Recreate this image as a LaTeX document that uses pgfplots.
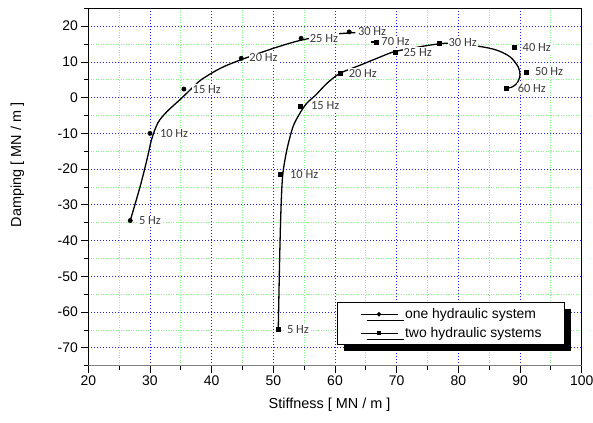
\documentclass[border=0pt]{standalone}
\usepackage{pgfplots}
\pgfplotsset{compat=1.18}
\usepackage{fontspec}
\setmainfont{Liberation Sans}
\newfontfamily\hzfont{Carlito}
\usetikzlibrary{shadows}

\definecolor{majgrid}{RGB}{30,30,255}
\definecolor{mingrid}{RGB}{130,245,130}
\definecolor{hzgray}{RGB}{60,60,60}

% fitted curves (stiffness, damping)
\pgfplotstableread{
x     y
26.8  -34.4
28.4  -24.9
29.5  -17.4
30.3  -11.5
31.3  -7.0
32.7  -4.0
34.9  -0.5
36.6   2.3
38.3   5.0
41.4   8.2
44.6  10.5
50.0  13.8
54.3  16.0
58.0  17.2
60.8  17.9
63.3  18.2
}\curveone

\pgfplotstableread{
x     y
50.8  -64.9
51.0  -47.2
51.2  -33.3
51.5  -22.1
52.2  -14.6
53.2  -8.1
54.3  -4.4
55.4  -1.6
56.8   0.6
58.7   4.0
60.8   6.8
64.1   9.1
66.8  11.0
69.5  12.8
73.0  14.0
76.2  14.9
78.5  15.2
83.2  14.4
86.2  13.3
88.4  11.4
89.7   8.6
90.0   6.3
89.5   4.0
88.6   2.9
87.7   2.6
}\curvetwo

% measured points
\pgfplotstableread{
x     y
26.8  -34.4
30.0  -10.0
35.5   2.4
44.8  11.0
54.5  16.6
62.3  18.4
}\pointsone

\pgfplotstableread{
x     y
50.8  -64.9
51.1  -21.5
54.4  -2.3
60.8   6.8
69.7  12.8
76.9  15.3
89.0  14.0
91.0   7.2
87.7   2.7
66.6  15.6
}\pointstwo

\tikzset{hz/.style={anchor=west, fill=white, inner sep=0.8bp, xshift=-0.8bp,
  font=\hzfont\fontsize{12.5}{13}\selectfont, text=hzgray}}

\begin{document}
\begin{tikzpicture}
\begin{axis}[
  scale only axis,
  width=493.4bp, height=357.4bp,
  xmin=20, xmax=100, ymin=-75, ymax=25,
  xtick={20,30,...,100}, ytick={-70,-60,...,20},
  minor xtick={25,35,...,95}, minor ytick={-75,-65,...,25},
  grid=both,
  major grid style={majgrid, line width=0.8bp, dash pattern=on 1bp off 2bp},
  minor grid style={mingrid, line width=0.8bp, dash pattern=on 1bp off 1.5bp},
  tick align=outside,
  major tick length=7bp, minor tick length=4bp,
  xtick pos=bottom, ytick pos=left,
  axis line style={black, line width=0.8bp},
  tick style={black, line width=0.8bp},
  /pgf/number format/assume math mode=true,
  tick label style={font=\fontsize{14}{16}\selectfont},
  xlabel={Stiffness [ MN / m ]},
  ylabel={Damping [ MN / m ]},
  x label style={at={(axis description cs:0.489,0)}, yshift=-39.5bp, anchor=center,
    font=\fontsize{14.5}{17}\selectfont},
  y label style={at={(axis description cs:0,0.5616)}, yshift=71bp, anchor=center,
    font=\fontsize{14.5}{17}\selectfont},
  legend cell align=left,
  legend style={at={(rel axis cs:0.966,0.058)}, anchor=south east,
    draw=black, line width=0.8bp, fill=white,
    font=\fontsize{14}{16}\selectfont,
    inner xsep=16bp, inner ysep=4bp, row sep=4.5bp,
    nodes={inner xsep=7bp, inner ysep=1.5bp},
    drop shadow={shadow xshift=6bp, shadow yshift=-6bp, fill=black, opacity=1}},
  legend image code/.code={
    \path (-6.6bp,0bp);
    \draw[mark repeat=2, mark phase=2, line width=1.2bp, #1]
      plot coordinates {(0bp,0bp) (18.5bp,0bp) (37bp,0bp)};
  },
]
\addlegendimage{black, mark=*, mark size=1.5bp}
\addlegendentry{one hydraulic system}
\addlegendimage{black, mark=square*, mark size=1.6bp}
\addlegendentry{two hydraulic systems}

\addplot[black, line width=1.3bp, smooth, tension=0.5, forget plot] table {\curveone};
\addplot[black, line width=1.3bp, smooth, tension=0.5, forget plot] table {\curvetwo};
\addplot[black, line width=1.3bp, forget plot] coordinates {(65.9,15.6) (67.2,15.6)};
\addplot[only marks, mark=*, mark size=2.2bp, black, forget plot] table {\pointsone};
\addplot[only marks, mark=square*, mark size=2bp, black, forget plot] table {\pointstwo};

% frequency labels, one hydraulic system
\node[hz] at (axis cs:28.2,-34.4) {5 Hz};
\node[hz] at (axis cs:31.6,-9.9) {10 Hz};
\node[hz] at (axis cs:36.9,2.4) {15 Hz};
\node[hz] at (axis cs:46.1,11.1) {20 Hz};
\node[hz] at (axis cs:55.9,16.6) {25 Hz};
\node[hz] at (axis cs:63.7,18.4) {30 Hz};
% frequency labels, two hydraulic systems
\node[hz] at (axis cs:52.2,-64.9) {5 Hz};
\node[hz] at (axis cs:52.7,-21.5) {10 Hz};
\node[hz] at (axis cs:56.1,-2.3) {15 Hz};
\node[hz] at (axis cs:62.2,6.8) {20 Hz};
\node[hz] at (axis cs:71.1,12.7) {25 Hz};
\node[hz] at (axis cs:78.4,15.3) {30 Hz};
\node[hz] at (axis cs:90.4,13.9) {40 Hz};
\node[hz] at (axis cs:92.4,7.2) {50 Hz};
\node[hz] at (axis cs:89.6,2.7) {60 Hz};
\node[hz] at (axis cs:67.5,15.6) {70 Hz};

% grey base line
\draw[gray, line width=1.8bp] (rel axis cs:0,0) -- (rel axis cs:1,0);
\coordinate (sw) at (rel axis cs:0,0);
\coordinate (ne) at (rel axis cs:1,1);
\end{axis}
\pgfresetboundingbox
\path ([shift={(-88.3bp,-57.3bp)}]sw) rectangle ([shift={(11.3bp,8.3bp)}]ne);
\end{tikzpicture}
\end{document}
